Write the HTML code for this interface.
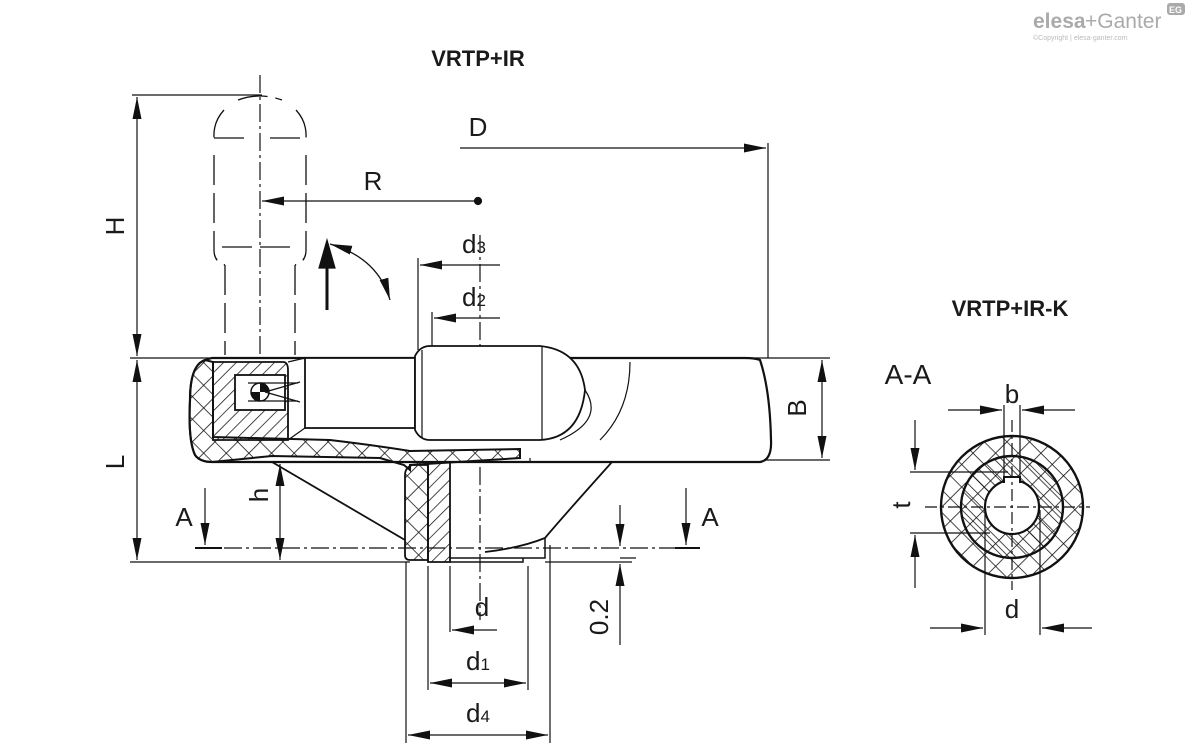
<!DOCTYPE html>
<html><head><meta charset="utf-8"><style>
html,body{margin:0;padding:0;background:#fff;}
svg{display:block;}
text{font-family:"Liberation Sans",sans-serif;fill:#1a1a1a;}
</style></head><body>
<svg width="1200" height="743" viewBox="0 0 1200 743" xmlns="http://www.w3.org/2000/svg">
<defs>
<pattern id="cross" width="16" height="16" patternUnits="userSpaceOnUse" patternTransform="rotate(45)">
<path d="M0 0H16M0 0V16" stroke="#111" stroke-width="1.6"/>
</pattern>
<pattern id="diag" width="9" height="9" patternUnits="userSpaceOnUse" patternTransform="rotate(45)">
<path d="M0 0V9" stroke="#111" stroke-width="1.5"/>
</pattern>
<pattern id="diag2" width="9" height="9" patternUnits="userSpaceOnUse" patternTransform="rotate(-45)">
<path d="M0 0V9" stroke="#111" stroke-width="1.5"/>
</pattern>
<marker id="ar" viewBox="0 0 22 9" refX="22" refY="4.5" markerWidth="22" markerHeight="9" markerUnits="userSpaceOnUse" orient="auto-start-reverse">
<path d="M0 0L22 4.5L0 9Z" fill="#111"/>
</marker>
</defs>

<!-- logo -->
<text x="1033" y="28" font-size="21" font-weight="bold" style="fill:#aaa">elesa</text>
<text x="1085" y="28" font-size="21" style="fill:#aaa">+Ganter</text>
<rect x="1167" y="3" width="18" height="12" rx="3" fill="#aaa"/>
<text x="1169" y="13" font-size="9" style="fill:#fff" font-weight="bold">EG</text>
<text x="1033" y="40" font-size="7" style="fill:#bbb">©Copyright | elesa-ganter.com</text>

<!-- titles -->
<text x="478" y="66" font-size="22" font-weight="bold" text-anchor="middle">VRTP+IR</text>
<text x="1010" y="316" font-size="22" font-weight="bold" text-anchor="middle">VRTP+IR-K</text>

<g fill="none" stroke="#111" stroke-width="1.2">
<!-- center lines -->
<path d="M260 75V410" stroke-dasharray="18 4 3 4"/>
<path d="M480 235V620" stroke-dasharray="18 4 3 4"/>
<path d="M195 548H700" stroke-dasharray="18 4 3 4"/>
<path d="M300 390H650" stroke-dasharray="18 4 3 4"/>

<!-- H / L -->
<path d="M132 95H262"/>
<path d="M137 97V356" marker-start="url(#ar)" marker-end="url(#ar)"/>
<path d="M130 358H830"/>
<path d="M137 360V560" marker-start="url(#ar)" marker-end="url(#ar)"/>
<path d="M130 562H410"/>

<!-- handle (dashed) -->
<g stroke-dasharray="30 8" stroke-width="1.3">
<path d="M238 100Q260 92 282 100"/>
<path d="M224 110Q213 122 214 138M296 110Q307 122 306 138"/>
<path d="M214 138H250M270 138H306"/>
<path d="M214 155V250Q214 262 225 265M306 155V250Q306 262 295 265"/>
<path d="M222 247H296"/>
<path d="M225 265V355M295 265V355"/>
</g>

<!-- R -->
<path d="M476 201H262" marker-end="url(#ar)"/>
<circle cx="478" cy="201" r="3.5" fill="#111"/>
<!-- D -->
<path d="M460 148H766" marker-end="url(#ar)"/>
<path d="M768 143V358"/>
<!-- d3 d2 -->
<path d="M500 265H420" marker-end="url(#ar)"/>
<path d="M418 258V350"/>
<path d="M500 318H434" marker-end="url(#ar)"/>
<path d="M432 312V350"/>

<!-- rotation arrows -->
<path d="M327 310V262" stroke-width="3"/>
<path d="M319 268L327 240L335 268Z" fill="#111"/>
<path d="M330 244Q378 258 390 300" stroke-width="1.3" marker-start="url(#ar)" marker-end="url(#ar)"/>

<!-- B -->
<path d="M760 460H830"/>
<path d="M822 360V458" marker-start="url(#ar)" marker-end="url(#ar)"/>

<!-- body rim -->
<path d="M205 360Q190 365 190 400Q188 440 195 455Q200 462 212 462L760 462Q772 460 771 440Q770 390 760 360Q755 358 745 358H212Z" stroke-width="2.2" fill="#fff"/>
<path d="M205 360Q190 365 190 400Q188 440 195 455Q200 462 212 462L272 456L380 458L404 465L410 470L410 465L520 458L520 449L410 451Q380 446 330 440L213 437L213 362Z" fill="url(#cross)" stroke-width="2"/>
<path d="M213 362H283Q288 362 288 370V440H213Z" fill="url(#diag)" stroke-width="1.8"/>
<rect x="235" y="375" width="50" height="35" fill="#fff" stroke-width="1.8"/>
<circle cx="260" cy="392" r="9" fill="#fff" stroke-width="1.5"/>
<path d="M260 383A9 9 0 0 1 269 392H260ZM260 392V401A9 9 0 0 1 251 392Z" fill="#111" stroke="none"/>
<path d="M265 392L300 382M265 392L300 402M248 383H298M248 401H298"/>
<!-- cylinder -->
<path d="M288 362L305 358H415M288 440L305 428H415"/>
<path d="M305 358H415V428H305Z" fill="#fff" stroke-width="1.8"/>
<!-- knob -->
<path d="M415 356Q420 346 430 346H540Q580 350 585 390Q580 438 540 440H430Q420 440 415 430Z" fill="#fff" stroke-width="1.8"/>
<path d="M422 350V438M542 346V440"/>
<path d="M585 390Q605 420 560 440M630 362Q630 410 600 440"/>
<!-- hub -->
<path d="M272 462L405 540" stroke-width="1.8"/>
<path d="M612 462Q560 520 545 538Q520 548 485 552" stroke-width="1.8"/>
<path d="M405 475Q405 468 412 465H428V560H410Q405 560 405 555Z" fill="url(#cross)" stroke-width="1.8"/>
<path d="M428 462H450V562H428Z" fill="url(#diag)" stroke-width="1.8"/>
<path d="M450 462H530V458" />
<path d="M450 558H545V538M450 562H523V558" stroke-width="1.5"/>
<path d="M470 462H610" stroke-width="1.8"/>

<!-- section A arrows -->
<path d="M205 488V545" marker-end="url(#ar)"/>
<path d="M195 548H222" stroke-width="2"/>
<path d="M686 488V545" marker-end="url(#ar)"/>
<path d="M675 548H700" stroke-width="2"/>

<!-- h -->
<path d="M280 464V560" marker-start="url(#ar)" marker-end="url(#ar)"/>
<!-- 0.2 -->
<path d="M620 505V546" marker-end="url(#ar)"/>
<path d="M620 645V564" marker-end="url(#ar)"/>
<path d="M545 562H632M620 558H636"/>

<!-- d d1 d4 -->
<path d="M406 562V743M428 566V690M450 566V632M528 566V690M550 545V743"/>
<path d="M497 630H452" marker-end="url(#ar)"/>
<path d="M430 683H526" marker-start="url(#ar)" marker-end="url(#ar)"/>
<path d="M408 735H548" marker-start="url(#ar)" marker-end="url(#ar)"/>

<!-- A-A section -->
<circle cx="1012" cy="507" r="71" fill="url(#cross)" stroke-width="2.4"/>
<circle cx="1012" cy="507" r="51" fill="url(#diag2)" stroke-width="2.4"/>
<path d="M1004 405V480M1020 405V480" />
<circle cx="1012" cy="507" r="27" fill="#fff" stroke-width="2.2"/>
<path d="M1004 483V477H1020V483" fill="#fff" stroke-width="2"/>
<path d="M925 507H1090M1012 420V590" stroke-dasharray="12 4 3 4"/>
<path d="M948 410H1002" marker-end="url(#ar)"/>
<path d="M1075 410H1022" marker-end="url(#ar)"/>
<path d="M915 420V470" marker-end="url(#ar)"/>
<path d="M915 588V535" marker-end="url(#ar)"/>
<path d="M910 472H1008M910 533H990"/>
<path d="M985 510V635M1040 510V635"/>
<path d="M930 628H983" marker-end="url(#ar)"/>
<path d="M1092 628H1042" marker-end="url(#ar)"/>
</g>

<!-- labels -->
<g font-size="26">
<text x="124" y="226" transform="rotate(-90 124 226)" text-anchor="middle">H</text>
<text x="124" y="462" transform="rotate(-90 124 462)" text-anchor="middle">L</text>
<text x="806" y="408" transform="rotate(-90 806 408)" text-anchor="middle">B</text>
<text x="268" y="495" transform="rotate(-90 268 495)" text-anchor="middle">h</text>
<text x="608" y="617" transform="rotate(-90 608 617)" text-anchor="middle">0.2</text>
<text x="910" y="505" transform="rotate(-90 910 505)" text-anchor="middle">t</text>
<text x="373" y="190" text-anchor="middle">R</text>
<text x="478" y="136" text-anchor="middle">D</text>
<text x="474" y="253" text-anchor="middle">d<tspan font-size="17">3</tspan></text>
<text x="474" y="306" text-anchor="middle">d<tspan font-size="17">2</tspan></text>
<text x="482" y="616" text-anchor="middle">d</text>
<text x="478" y="670" text-anchor="middle">d<tspan font-size="17">1</tspan></text>
<text x="478" y="722" text-anchor="middle">d<tspan font-size="17">4</tspan></text>
<text x="184" y="526" text-anchor="middle">A</text>
<text x="710" y="526" text-anchor="middle">A</text>
<text x="1012" y="403" text-anchor="middle">b</text>
<text x="1012" y="618" text-anchor="middle">d</text>
<text x="908" y="384" text-anchor="middle" font-size="28">A-A</text>
</g>
</svg>
</body></html>
